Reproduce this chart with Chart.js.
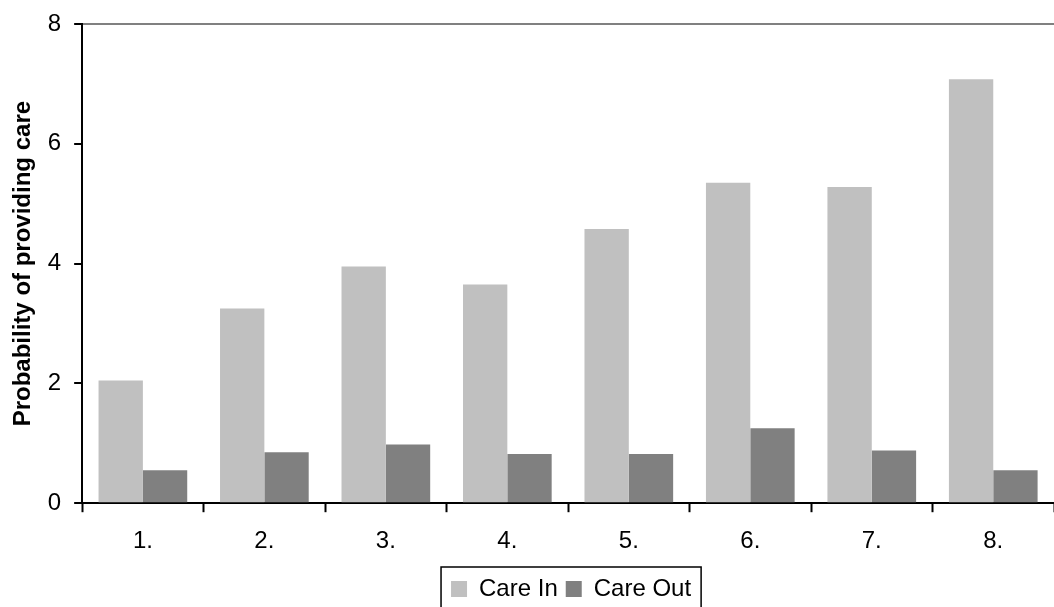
<!DOCTYPE html>
<html>
<head>
<meta charset="utf-8">
<script src="https://cdn.jsdelivr.net/npm/chart.js@4/dist/chart.umd.min.js"></script>
<style>
  html, body { margin: 0; padding: 0; background: #fff; }
  #wrap { width: 1054px; height: 607px; }
</style>
</head>
<body>
<div id="wrap"><canvas id="chart" width="1054" height="607"></canvas></div>
<script>
const groups = ['1.', '2.', '3.', '4.', '5.', '6.', '7.', '8.'];
const careIn = [2.05, 3.25, 3.95, 3.65, 4.58, 5.35, 5.28, 7.08];
const careOut = [0.55, 0.85, 0.98, 0.82, 0.82, 1.25, 0.88, 0.55];

const FONT = 'Liberation Sans, Arial, sans-serif';

// legend sits centred under the plot area, with a box round it
const legendBox = {
    id: 'legendBox',
    afterLayout(chart) {
        const lg = chart.legend, ca = chart.chartArea;
        const dx = (ca.left + ca.right) / 2 - (lg.left + lg.right) / 2 + 3;
        lg.left += dx;
        lg.right += dx;
    },
    afterDraw(chart) {
        const boxes = chart.legend.legendHitBoxes;
        if (!boxes || !boxes.length) return;
        let left = Infinity, right = -Infinity, top = Infinity, bottom = -Infinity;
        boxes.forEach(b => {
            left = Math.min(left, b.left);
            right = Math.max(right, b.left + b.width);
            top = Math.min(top, b.top);
            bottom = Math.max(bottom, b.top + b.height);
        });
        const ctx = chart.ctx;
        ctx.save();
        ctx.strokeStyle = '#000';
        ctx.lineWidth = 1.5;
        ctx.strokeRect(left - 10, top - 10, right - left + 20, bottom - top + 30);
        ctx.restore();
    }
};

const ctx = document.getElementById('chart').getContext('2d');
new Chart(ctx, {
    type: 'bar',
    data: {
        labels: groups,
        datasets: [
            { label: 'Care In', data: careIn, backgroundColor: '#c0c0c0' },
            { label: 'Care Out', data: careOut, backgroundColor: '#808080' }
        ]
    },
    options: {
        responsive: false,
        animation: false,
        layout: { padding: { top: 8, right: 0, bottom: -4, left: 9 } },
        datasets: { bar: { categoryPercentage: 0.73, barPercentage: 1.0 } },
        plugins: {
            tooltip: { enabled: false },
            legend: {
                position: 'bottom',
                labels: {
                    color: '#000',
                    font: { family: FONT, size: 24 },
                    boxWidth: 16,
                    boxHeight: 16,
                    padding: 8
                }
            }
        },
        scales: {
            x: {
                grid: {
                    offset: true,
                    drawOnChartArea: false,
                    tickLength: 9,
                    tickColor: '#000',
                    tickWidth: 2
                },
                border: { color: '#000', width: 2 },
                ticks: {
                    color: '#000',
                    padding: 15,
                    font: { family: FONT, size: 24 }
                },
                afterFit: s => { s.height -= 2; }
            },
            y: {
                min: 0,
                max: 8,
                ticks: {
                    stepSize: 2,
                    color: '#000',
                    padding: 13,
                    font: { family: FONT, size: 24, lineHeight: 0.92 }
                },
                grid: {
                    color: c => c.tick && c.tick.value === 8 ? '#808080' : 'rgba(0,0,0,0)',
                    lineWidth: 2,
                    tickColor: '#000',
                    tickWidth: 2,
                    tickLength: 8
                },
                border: { color: '#000', width: 2 },
                title: {
                    display: true,
                    text: 'Probability of providing care',
                    color: '#000',
                    padding: { top: 0, bottom: -3 },
                    font: { family: FONT, size: 24, weight: 'bold' }
                }
            }
        }
    },
    plugins: [legendBox]
});
</script>
</body>
</html>
